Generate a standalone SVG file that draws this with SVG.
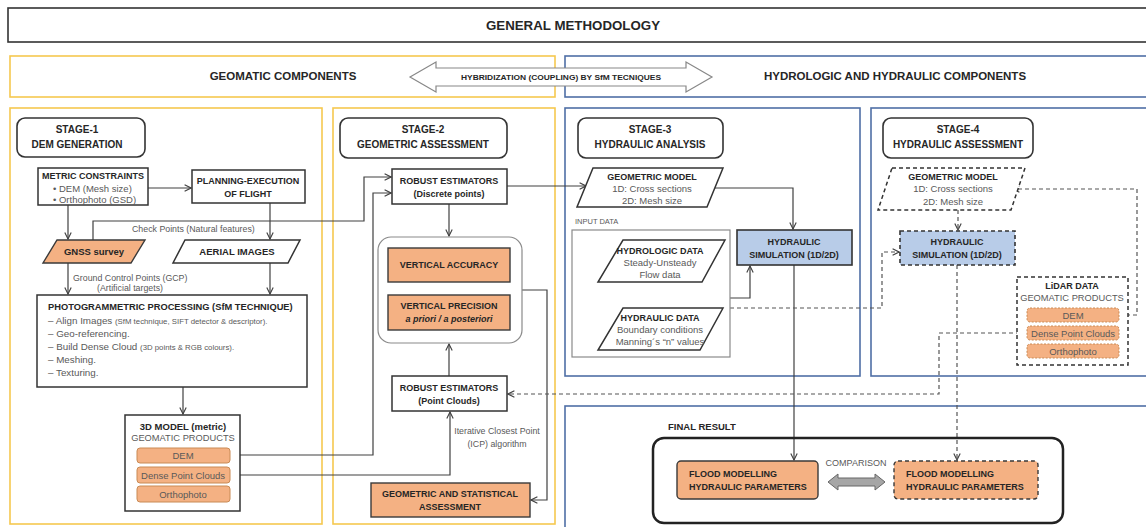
<svg xmlns="http://www.w3.org/2000/svg" width="1146" height="527" viewBox="0 0 1146 527">
<defs>
<style>
text{font-family:"Liberation Sans",Arial,sans-serif;fill:#262626}
.b{font-weight:bold}
.r{fill:#595959}
.m{text-anchor:middle}
.ylw{fill:none;stroke:#f6c84f;stroke-width:1.6}
.blu{fill:none;stroke:#4f6fa6;stroke-width:1.6}
.box{fill:#fff;stroke:#333;stroke-width:1.5}
.hdr{fill:#fff;stroke:#333;stroke-width:1.6}
.org{fill:#f4b183;stroke:#3a3a3a;stroke-width:1.4}
.orgs{fill:#f4b183;stroke:#c98a55;stroke-width:1}
.orgd{fill:#f4b183;stroke:#c98a55;stroke-width:1;stroke-dasharray:2 1.5}
.sim{fill:#b8cce8;stroke:#333;stroke-width:1.6}
.dsh{stroke-dasharray:4 3}
.c{fill:none;stroke:#404040;stroke-width:1.2}
.cd{fill:none;stroke:#555;stroke-width:1.2;stroke-dasharray:4 3}
</style>
<marker id="a" viewBox="0 0 10 10" refX="9" refY="5" markerWidth="8" markerHeight="8" orient="auto" markerUnits="userSpaceOnUse">
<path d="M1,1 L9,5 L1,9" fill="none" stroke="#404040" stroke-width="1.4"/>
</marker>
</defs>

<g id="frames">
<rect x="8" y="8" width="1142" height="34" fill="#fff" stroke="#333" stroke-width="1.6"/>
<text class="b m" x="573" y="30" font-size="13.3">GENERAL METHODOLOGY</text>
<rect class="ylw" x="10" y="56" width="545" height="41"/>
<rect class="blu" x="565" y="56" width="590" height="41"/>
<text class="b m" x="283" y="80" font-size="11.5">GEOMATIC COMPONENTS</text>
<text class="b m" x="895" y="80" font-size="11.5">HYDROLOGIC AND HYDRAULIC COMPONENTS</text>
<rect class="ylw" x="10" y="108" width="312" height="416"/>
<rect class="ylw" x="333" y="108" width="222" height="416"/>
<rect class="blu" x="565" y="108" width="295" height="268"/>
<rect class="blu" x="871" y="108" width="285" height="268"/>
<rect class="blu" x="565" y="406" width="590" height="130"/>
</g>

<g id="hybrid">
<polygon points="410,77 436,62 436,68 686,68 686,62 712,77 686,92 686,86 436,86 436,92" fill="#fff" stroke="#888" stroke-width="1.2"/>
<text class="b m" x="561" y="80" font-size="7.2" textLength="200" lengthAdjust="spacingAndGlyphs">HYBRIDIZATION (COUPLING) BY SfM TECNIQUES</text>
</g>

<g id="connectors">
<path class="c" d="M148,188 H191" marker-end="url(#a)"/>
<path class="c" d="M68,205 V239" marker-end="url(#a)"/>
<path class="c" d="M270,203 V239" marker-end="url(#a)"/>
<path class="c" d="M68,263 V294" marker-end="url(#a)"/>
<path class="c" d="M270,263 V294" marker-end="url(#a)"/>
<path class="c" d="M183,387 V414" marker-end="url(#a)"/>
<path class="c" d="M93,240 V221 H364 V177 H391" marker-end="url(#a)"/>
<path class="c" d="M230,455 H373 V193 H391" marker-end="url(#a)"/>
<path class="c" d="M230,475 H450 V412" marker-end="url(#a)"/>
<path class="c" d="M449,204 V236" marker-end="url(#a)"/>
<path class="c" d="M449,376 V344" marker-end="url(#a)"/>
<path class="c" d="M522,290 H547 V500 H531" marker-end="url(#a)"/>
<path class="c" d="M507,186 H586" marker-end="url(#a)"/>
<path class="c" d="M708,188 H793 V229" marker-end="url(#a)"/>
<path class="c" d="M730,298 H750 V266" marker-end="url(#a)"/>
<path class="c" d="M794,265 V460" marker-end="url(#a)"/>
<path class="cd" d="M730,308 H882 V252 H899" marker-end="url(#a)"/>
<path class="cd" d="M958,210 V230" marker-end="url(#a)"/>
<path class="cd" d="M957,265 V460" marker-end="url(#a)"/>
<path class="cd" d="M1119,315 H1137 V189 H1013" marker-end="url(#a)"/>
<path class="cd" d="M1027,333 H939 V394 H508" marker-end="url(#a)"/>
<polygon points="828,482 838,474 838,478 875,478 875,474 885,482 875,490 875,486 838,486 838,490" fill="#a6a6a6" stroke="#666" stroke-width="1"/>
<text class="r m" x="856" y="466" font-size="9">COMPARISON</text>
<text class="r" x="132" y="232" font-size="8.8">Check Points  (Natural features)</text>
<text class="r" x="73" y="281" font-size="8.8">Ground Control Points (GCP)</text>
<text class="r" x="97" y="291" font-size="8.8">(Artificial targets)</text>
<text class="r m" x="497" y="434" font-size="8.8">Iterative Closest Point</text>
<text class="r m" x="497" y="447" font-size="8.8">(ICP) algorithm</text>
</g>

<g id="stage1-header">
<rect class="hdr" x="17" y="118" width="128" height="39" rx="8"/>
<text class="b m" x="77" y="133" font-size="10">STAGE-1</text>
<text class="b m" x="77" y="148" font-size="10">DEM GENERATION</text>
</g>

<g id="metric">
<rect class="box" x="38" y="168" width="110" height="37"/>
<text class="b m" x="93" y="179" font-size="9">METRIC CONSTRAINTS</text>
<text class="r" x="53" y="192" font-size="9.5">• DEM (Mesh size)</text>
<text class="r" x="53" y="203" font-size="9.5">• Orthophoto (GSD)</text>
</g>

<g id="planning">
<rect class="box" x="192" y="170" width="113" height="33"/>
<text class="b m" x="248" y="184" font-size="9">PLANNING-EXECUTION</text>
<text class="b m" x="248" y="197" font-size="9">OF FLIGHT</text>
</g>

<g id="gnss">
<polygon points="57,240 145,240 131,263 43,263" fill="#f4b183" stroke="#3a3a3a" stroke-width="1.4"/>
<text class="b m" x="94" y="255" font-size="9.5">GNSS survey</text>
</g>

<g id="aerial">
<polygon points="185,240 300,240 288,263 173,263" fill="#fff" stroke="#333" stroke-width="1.5"/>
<text class="b m" x="237" y="255" font-size="9.5">AERIAL IMAGES</text>
</g>

<g id="photogrammetric">
<rect class="box" x="37" y="295" width="270" height="92"/>
<text class="b" x="48" y="310" font-size="9.3">PHOTOGRAMMETRIC PROCESSING (SfM TECHNIQUE)</text>
<text class="r" x="48" y="324" font-size="9.8">– Align Images <tspan font-size="7.8">(SfM technique, SIFT detector &amp; descriptor).</tspan></text>
<text class="r" x="48" y="337" font-size="9.8">– Geo-referencing.</text>
<text class="r" x="48" y="350" font-size="9.8">– Build Dense Cloud <tspan font-size="7.8">(3D points &amp; RGB colours).</tspan></text>
<text class="r" x="48" y="363" font-size="9.8">– Meshing.</text>
<text class="r" x="48" y="376" font-size="9.8">– Texturing.</text>
</g>

<g id="model3d">
<rect class="box" x="125" y="415" width="115" height="96"/>
<text class="b m" x="183" y="430" font-size="9.5">3D MODEL (metric)</text>
<text class="r m" x="183" y="441" font-size="9.3">GEOMATIC PRODUCTS</text>
<rect class="orgs" x="137" y="448" width="93" height="15" rx="3"/>
<text class="r m" x="183" y="459" font-size="9.5">DEM</text>
<rect class="orgs" x="137" y="467" width="93" height="16" rx="3"/>
<text class="r m" x="183" y="479" font-size="9.5">Dense Point Clouds</text>
<rect class="orgs" x="137" y="486" width="93" height="16" rx="3"/>
<text class="r m" x="183" y="498" font-size="9.5">Orthophoto</text>
</g>

<g id="stage2-header">
<rect class="hdr" x="340" y="118" width="167" height="40" rx="8"/>
<text class="b m" x="423" y="133" font-size="10">STAGE-2</text>
<text class="b m" x="423" y="148" font-size="10">GEOMETRIC ASSESSMENT</text>
</g>

<g id="robust-discrete">
<rect class="box" x="392" y="169" width="115" height="35"/>
<text class="b m" x="449" y="184" font-size="9">ROBUST ESTIMATORS</text>
<text class="b m" x="449" y="197" font-size="9">(Discrete points)</text>
</g>

<g id="accuracy-group">
<rect x="378" y="237" width="144" height="106" rx="13" fill="#fff" stroke="#8a8a8a" stroke-width="1.2"/>
<rect class="org" x="388" y="248" width="122" height="34"/>
<text class="b m" x="449" y="268" font-size="9">VERTICAL ACCURACY</text>
<rect class="org" x="388" y="295" width="122" height="35"/>
<text class="b m" x="449" y="309" font-size="9">VERTICAL PRECISION</text>
<text class="b m" x="449" y="322" font-size="9" font-style="italic">a priori / a posteriori</text>
</g>

<g id="robust-clouds">
<rect class="box" x="392" y="376" width="115" height="35"/>
<text class="b m" x="449" y="391" font-size="9">ROBUST ESTIMATORS</text>
<text class="b m" x="449" y="404" font-size="9">(Point Clouds)</text>
</g>

<g id="geo-stat">
<rect class="org" x="371" y="483" width="159" height="34"/>
<text class="b m" x="450" y="497" font-size="9">GEOMETRIC AND STATISTICAL</text>
<text class="b m" x="450" y="510" font-size="9">ASSESSMENT</text>
</g>

<g id="stage3-header">
<rect class="hdr" x="578" y="118" width="145" height="40" rx="8"/>
<text class="b m" x="650" y="133" font-size="10">STAGE-3</text>
<text class="b m" x="650" y="148" font-size="10">HYDRAULIC ANALYSIS</text>
</g>

<g id="geomodel3">
<polygon points="593,168 723,168 707,207 577,207" fill="#fff" stroke="#333" stroke-width="1.5"/>
<text class="b m" x="652" y="180" font-size="9">GEOMETRIC MODEL</text>
<text class="r m" x="652" y="192" font-size="9.5">1D: Cross sections</text>
<text class="r m" x="652" y="204" font-size="9.5">2D: Mesh size</text>
</g>

<g id="input-data">
<text class="r" x="575" y="224" font-size="7.5">INPUT DATA</text>
<rect x="572" y="230" width="158" height="127" fill="#fff" stroke="#8a8a8a" stroke-width="1.2"/>
<polygon points="623,240 725,240 702,282 598,282" fill="#fff" stroke="#333" stroke-width="1.5"/>
<text class="b m" x="660" y="254" font-size="9">HYDROLOGIC DATA</text>
<text class="r m" x="660" y="266" font-size="9.5">Steady-Unsteady</text>
<text class="r m" x="660" y="278" font-size="9.5">Flow data</text>
<polygon points="623,308 723,308 700,350 598,350" fill="#fff" stroke="#333" stroke-width="1.5"/>
<text class="b m" x="660" y="321" font-size="9">HYDRAULIC DATA</text>
<text class="r m" x="660" y="333" font-size="9.5">Boundary conditions</text>
<text class="r m" x="660" y="345" font-size="9.5">Manning´s “n” values</text>
</g>

<g id="sim3">
<rect class="sim" x="737" y="230" width="115" height="35"/>
<text class="b m" x="794" y="245" font-size="9">HYDRAULIC</text>
<text class="b m" x="794" y="258" font-size="9">SIMULATION (1D/2D)</text>
</g>

<g id="stage4-header">
<rect class="hdr" x="883" y="118" width="150" height="40" rx="8"/>
<text class="b m" x="958" y="133" font-size="10">STAGE-4</text>
<text class="b m" x="958" y="148" font-size="10">HYDRAULIC ASSESSMENT</text>
</g>

<g id="geomodel4">
<polygon class="dsh" points="892,168 1025,168 1011,210 878,210" fill="#fff" stroke="#333" stroke-width="1.5"/>
<text class="b m" x="953" y="180" font-size="9">GEOMETRIC MODEL</text>
<text class="r m" x="953" y="192" font-size="9.5">1D: Cross sections</text>
<text class="r m" x="953" y="205" font-size="9.5">2D: Mesh size</text>
</g>

<g id="sim4">
<rect class="sim dsh" x="900" y="231" width="115" height="34"/>
<text class="b m" x="957" y="245" font-size="9">HYDRAULIC</text>
<text class="b m" x="957" y="258" font-size="9">SIMULATION (1D/2D)</text>
</g>

<g id="lidar">
<rect class="dsh" x="1017" y="277" width="111" height="88" fill="#fff" stroke="#333" stroke-width="1.5"/>
<text class="b m" x="1072" y="289" font-size="9">LiDAR DATA</text>
<text class="r m" x="1072" y="301" font-size="9.3">GEOMATIC PRODUCTS</text>
<rect class="orgd" x="1027" y="308" width="92" height="14" rx="3"/>
<text class="r m" x="1073" y="319" font-size="9.5">DEM</text>
<rect class="orgd" x="1027" y="326" width="92" height="14" rx="3"/>
<text class="r m" x="1073" y="337" font-size="9.5">Dense Point Clouds</text>
<rect class="orgd" x="1027" y="344" width="92" height="14" rx="3"/>
<text class="r m" x="1073" y="355" font-size="9.5">Orthophoto</text>
</g>

<g id="final-result">
<text class="b" x="668" y="430" font-size="9.5">FINAL RESULT</text>
<rect x="653" y="438" width="410" height="85" rx="11" fill="none" stroke="#222" stroke-width="2.5"/>
</g>

<g id="flood-left">
<rect class="org" x="677" y="461" width="141" height="38" rx="4"/>
<text class="b" x="689" y="477" font-size="9">FLOOD MODELLING</text>
<text class="b" x="689" y="490" font-size="9">HYDRAULIC PARAMETERS</text>
</g>

<g id="flood-right">
<rect class="org dsh" x="894" y="461" width="144" height="38" rx="4"/>
<text class="b" x="906" y="477" font-size="9">FLOOD MODELLING</text>
<text class="b" x="906" y="490" font-size="9">HYDRAULIC PARAMETERS</text>
</g>
</svg>
